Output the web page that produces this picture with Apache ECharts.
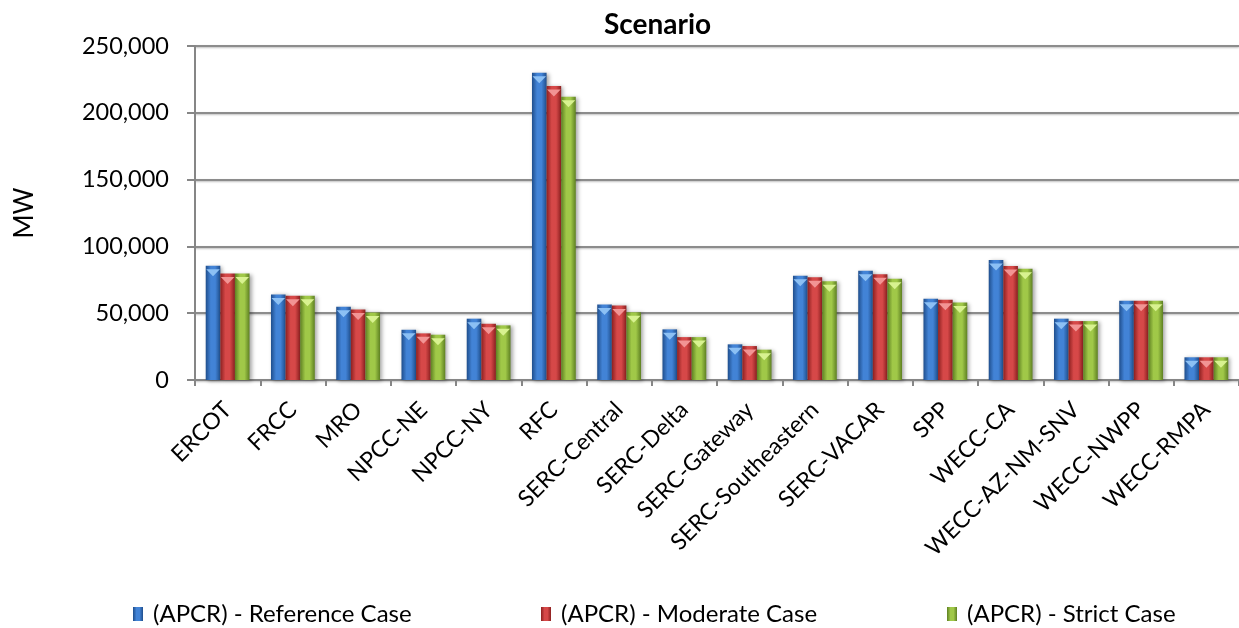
<!DOCTYPE html>
<html>
<head>
<meta charset="utf-8">
<script src="https://cdn.jsdelivr.net/npm/echarts@6/dist/echarts.min.js"></script>
<style>
  html, body { margin: 0; padding: 0; background: #fff; }
  #chart { width: 1239px; height: 628px; }
</style>
</head>
<body>
<div id="chart"></div>
<script>
// Regions along the category axis
const regions = [
  'ERCOT', 'FRCC', 'MRO', 'NPCC-NE', 'NPCC-NY', 'RFC', 'SERC-Central',
  'SERC-Delta', 'SERC-Gateway', 'SERC-Southeastern', 'SERC-VACAR', 'SPP',
  'WECC-CA', 'WECC-AZ-NM-SNV', 'WECC-NWPP', 'WECC-RMPA'
];

// Capacity (MW) by scenario
const referenceCase = [85500, 64000, 54800, 37600, 45900, 230000, 56500, 37900, 26700, 78000, 81700, 60800, 89900, 45900, 59300, 17000];
const moderateCase  = [79700, 63000, 52800, 34900, 42100, 220100, 55800, 32100, 25400, 77000, 79200, 60000, 85400, 44100, 59300, 17000];
const strictCase    = [79700, 63000, 50600, 33900, 40900, 212100, 50800, 32100, 22700, 74000, 75700, 58000, 83200, 44100, 59300, 17000];

const seriesNames = ['(APCR) - Reference Case', '(APCR) - Moderate Case', '(APCR) - Strict Case'];
const yTicks = { min: 0, max: 250000, interval: 50000 };

const palette = [
  { edge: '#1f4e8c', mid: '#4283d6', cap: '#8cc0f4' },
  { edge: '#8c2020', mid: '#d64848', cap: '#f29494' },
  { edge: '#5e8022', mid: '#a0c848', cap: '#d8f290' }
];

function bodyGradient(p) {
  return new echarts.graphic.LinearGradient(0, 0, 1, 0, [
    { offset: 0, color: p.edge },
    { offset: 0.35, color: p.mid },
    { offset: 0.65, color: p.mid },
    { offset: 1, color: p.edge }
  ]);
}

const values = [referenceCase, moderateCase, strictCase];
const barWidth = 14.6;
const catGap = '33%';
const font = 'Lato';

const series = [];
values.forEach((v, i) => {
  series.push({
    name: seriesNames[i],
    type: 'bar',
    data: v,
    barWidth: barWidth,
    barGap: '0%',
    barCategoryGap: catGap,
    itemStyle: {
      color: bodyGradient(palette[i]),
      shadowColor: 'rgba(0,0,0,0.35)',
      shadowBlur: 4,
      shadowOffsetX: 2,
      shadowOffsetY: 1
    },
    emphasis: { disabled: true }
  });
});
// Bevelled caps on top of each bar
values.forEach((v, i) => {
  series.push({
    name: seriesNames[i],
    type: 'pictorialBar',
    data: v,
    barWidth: barWidth,
    barGap: '0%',
    barCategoryGap: catGap,
    symbol: 'triangle',
    symbolRotate: 180,
    symbolSize: [barWidth - 1, 7],
    symbolPosition: 'end',
    symbolOffset: [0, '50%'],
    itemStyle: { color: palette[i].cap },
    z: 3,
    emphasis: { disabled: true },
    silent: true
  });
});

const legendLefts = [128, 536, 942];
const legends = seriesNames.map((n, i) => ({
  data: [{ name: n, itemStyle: { color: bodyGradient(palette[i]) } }],
  left: legendLefts[i],
  top: 597,
  icon: 'rect',
  itemWidth: 10,
  itemHeight: 14,
  itemGap: 6,
  selectedMode: false,
  textStyle: { fontFamily: font, fontSize: 24, color: '#000', padding: [0, 0, 0, 5] }
}));

const chart = echarts.init(document.getElementById('chart'));
chart.setOption({
  backgroundColor: '#fff',
  animation: false,
  title: {
    text: 'Scenario',
    left: 604,
    top: 11,
    padding: 0,
    textStyle: { fontFamily: font, fontWeight: 'bold', fontSize: 28, color: '#000' }
  },
  legend: legends,
  grid: { left: 195, right: -3, top: 46, bottom: 248, containLabel: false },
  xAxis: {
    type: 'category',
    data: regions,
    axisLine: { lineStyle: { color: '#868686', width: 2 } },
    axisTick: { show: true, length: 6, lineStyle: { color: '#868686', width: 2 } },
    axisLabel: {
      rotate: 45,
      interval: 0,
      margin: 26,
      fontFamily: font,
      fontSize: 23,
      color: '#000'
    }
  },
  yAxis: {
    type: 'value',
    min: yTicks.min,
    max: yTicks.max,
    interval: yTicks.interval,
    name: 'MW',
    nameLocation: 'middle',
    nameGap: 157,
    nameRotate: 90,
    nameTextStyle: { fontFamily: font, fontSize: 26, color: '#000' },
    axisLine: { show: true, lineStyle: { color: '#868686', width: 2 } },
    axisTick: { show: true, length: 8, lineStyle: { color: '#868686', width: 2 } },
    axisLabel: {
      margin: 26,
      fontFamily: font,
      fontSize: 23.5,
      color: '#000',
      formatter: v => v.toLocaleString('en-US')
    },
    splitLine: {
      show: true,
      lineStyle: {
        color: '#8c8c8c',
        width: 2,
        shadowColor: 'rgba(0,0,0,0.25)',
        shadowBlur: 2,
        shadowOffsetY: 1
      }
    }
  },
  series: series
});
</script>
</body>
</html>
